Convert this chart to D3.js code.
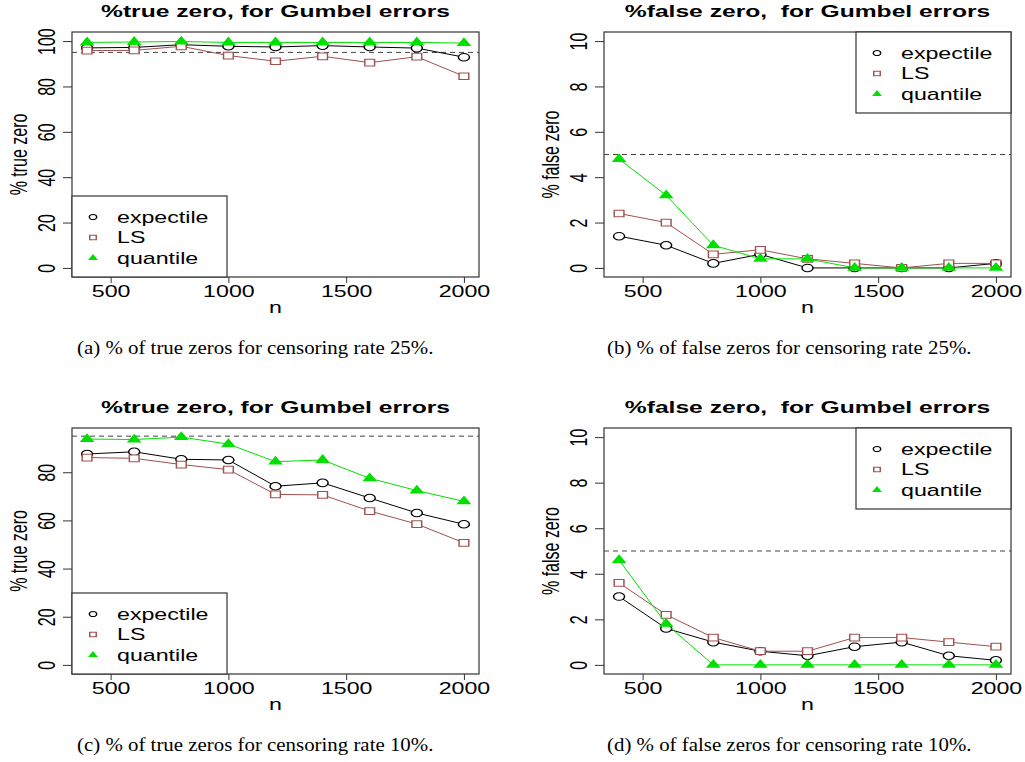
<!DOCTYPE html>
<html>
<head>
<meta charset="utf-8">
<script src="https://cdn.jsdelivr.net/npm/d3@7"></script>
<style>
  body { margin: 0; background: #fff; }
  svg { display: block; }
  text { font-family: "Liberation Sans", Arial, sans-serif; fill: #000; }
</style>
</head>
<body>
<svg id="chart" width="1025" height="762"></svg>
<script>
// sample sizes on the x axis
const nValues = [400, 600, 800, 1000, 1200, 1400, 1600, 1800, 2000];
const methods = ["expectile", "LS", "quantile"];
const xTicks = [500, 1000, 1500, 2000];

// (a) % true zero, censoring rate 25%
const trueExp25 = [97.0, 97.2, 98.4, 97.7, 97.4, 98.0, 97.4, 96.9, 92.9];
const trueLS25 = [95.8, 95.9, 97.7, 93.6, 91.1, 93.3, 90.5, 93.1, 84.5];
const trueQuant25 = [99.4, 99.6, 99.8, 99.4, 99.4, 99.4, 99.4, 99.4, 99.1];

// (b) % false zero, censoring rate 25%
const falseExp25 = [1.4, 1.0, 0.2, 0.6, 0.0, 0.0, 0.0, 0.0, 0.2];
const falseLS25 = [2.4, 2.0, 0.6, 0.8, 0.4, 0.2, 0.0, 0.2, 0.2];
const falseQuant25 = [4.8, 3.2, 1.0, 0.4, 0.4, 0.0, 0.0, 0.0, 0.0];

// (c) % true zero, censoring rate 10%
const trueExp10 = [87.6, 88.5, 85.4, 85.1, 74.2, 75.6, 69.3, 63.1, 58.4];
const trueLS10 = [86.1, 85.8, 83.2, 81.1, 70.8, 70.6, 63.9, 58.5, 50.7];
const trueQuant10 = [93.8, 93.6, 94.6, 91.7, 84.4, 85.1, 77.5, 72.4, 67.9];

// (d) % false zero, censoring rate 10%
const falseExp10 = [3.0, 1.6, 1.0, 0.6, 0.4, 0.8, 1.0, 0.4, 0.2];
const falseLS10 = [3.6, 2.2, 1.2, 0.6, 0.6, 1.2, 1.2, 1.0, 0.8];
const falseQuant10 = [4.6, 1.8, 0.0, 0.0, 0.0, 0.0, 0.0, 0.0, 0.0];

const trueTicks = [0, 20, 40, 60, 80, 100];
const falseTicks = [0, 2, 4, 6, 8, 10];

const captions = [
  "(a) % of true zeros for censoring rate 25%.",
  "(b) % of false zeros for censoring rate 25%.",
  "(c) % of true zeros for censoring rate 10%.",
  "(d) % of false zeros for censoring rate 10%."
];

const SX = 1.45; // the original figure is stretched sideways

const color = d3.scaleOrdinal().domain(methods).range(["#000000", "#a0504f", "#00e000"]);
const symbolType = d3.scaleOrdinal().domain(methods)
  .range([d3.symbolCircle, d3.symbolSquare, d3.symbolTriangle]);

const panels = [
  { left: 72, right: 479, top: 32, bottom: 277, title: "%true zero, for Gumbel errors",
    ylab: "% true zero", series: [trueExp25, trueLS25, trueQuant25], ylim: [0, 100],
    ticks: trueTicks, ref: 95, legend: "bottomleft", caption: captions[0] },
  { left: 604, right: 1011, top: 32, bottom: 277, title: "%false zero,  for Gumbel errors",
    ylab: "% false zero", series: [falseExp25, falseLS25, falseQuant25], ylim: [0, 10],
    ticks: falseTicks, ref: 5, legend: "topright", caption: captions[1] },
  { left: 72, right: 479, top: 428, bottom: 674, title: "%true zero, for Gumbel errors",
    ylab: "% true zero", series: [trueExp10, trueLS10, trueQuant10], ylim: null,
    ticks: trueTicks, ref: 95, legend: "bottomleft", caption: captions[2] },
  { left: 604, right: 1011, top: 428, bottom: 674, title: "%false zero,  for Gumbel errors",
    ylab: "% false zero", series: [falseExp10, falseLS10, falseQuant10], ylim: [0, 10],
    ticks: falseTicks, ref: 5, legend: "topright", caption: captions[3] }
];

const svg = d3.select("#chart");

// R style axis range: 4% extra on both ends
function pad(ext) {
  const d = (ext[1] - ext[0]) * 0.04;
  return [ext[0] - d, ext[1] + d];
}

function stretch(x, y, extra) {
  return `translate(${x},${y}) scale(${SX},1)` + (extra || "");
}

panels.forEach(function(p) {
  const g = svg.append("g");

  const x = d3.scaleLinear()
    .domain(pad(d3.extent(nValues)))
    .range([p.left, p.right]);

  const ylim = p.ylim || [0, d3.max(p.series, s => d3.max(s))];
  const y = d3.scaleLinear()
    .domain(pad(ylim))
    .range([p.bottom, p.top]);

  // x axis
  const xAxis = g.append("g")
    .attr("transform", `translate(0,${p.bottom})`)
    .call(d3.axisBottom(x).tickValues(xTicks).tickFormat(d3.format("d"))
      .tickSize(6).tickSizeOuter(0))
    .attr("font-family", "Liberation Sans, Arial, sans-serif")
    .attr("font-size", 16);
  xAxis.select(".domain").remove();
  xAxis.selectAll(".tick line").attr("stroke", "#333");
  xAxis.selectAll(".tick text")
    .attr("y", 0).attr("dy", null)
    .attr("transform", stretch(0, 20));

  // y axis, labels parallel to the axis
  const ticks = p.ticks.filter(t => t <= ylim[1] + 1e-9);
  const yAxis = g.append("g")
    .attr("transform", `translate(${p.left},0)`)
    .call(d3.axisLeft(y).tickValues(ticks).tickFormat(d3.format("d"))
      .tickSize(9).tickSizeOuter(0))
    .attr("font-family", "Liberation Sans, Arial, sans-serif")
    .attr("font-size", 16);
  yAxis.select(".domain").remove();
  yAxis.selectAll(".tick line").attr("stroke", "#333");
  yAxis.selectAll(".tick text")
    .attr("x", 0).attr("dy", null)
    .attr("text-anchor", "middle")
    .attr("transform", stretch(-17, 0, " rotate(-90)"));

  // box
  g.append("rect")
    .attr("x", p.left).attr("y", p.top)
    .attr("width", p.right - p.left).attr("height", p.bottom - p.top)
    .attr("fill", "none").attr("stroke", "#333").attr("stroke-width", 1.2);

  // dashed reference line
  g.append("line")
    .attr("x1", p.left).attr("x2", p.right)
    .attr("y1", y(p.ref)).attr("y2", y(p.ref))
    .attr("stroke", "#444").attr("stroke-dasharray", "5,4");

  const line = d3.line()
    .x((d, i) => x(nValues[i]))
    .y(d => y(d));

  p.series.forEach(function(values, k) {
    const m = methods[k];
    g.append("path")
      .attr("d", line(values))
      .attr("fill", "none")
      .attr("stroke", color(m))
      .attr("stroke-width", 1);

    g.selectAll(".pt" + k)
      .data(values)
      .join("path")
      .attr("class", "pt" + k)
      .attr("d", d3.symbol().type(symbolType(m)).size(45))
      .attr("transform", (d, i) => stretch(x(nValues[i]), y(d)))
      .attr("fill", m === "quantile" ? color(m) : "#fff")
      .attr("stroke", m === "quantile" ? "none" : color(m))
      .attr("stroke-width", 1);
  });

  // legend
  const lw = 155, lh = 81;
  const lx = p.legend === "bottomleft" ? p.left : p.right - lw;
  const ly = p.legend === "bottomleft" ? p.bottom - lh : p.top;
  g.append("rect")
    .attr("x", lx).attr("y", ly).attr("width", lw).attr("height", lh)
    .attr("fill", "#fff").attr("stroke", "#333").attr("stroke-width", 1.2);
  methods.forEach(function(m, k) {
    const ry = ly + 21 + k * 20.5;
    g.append("path")
      .attr("d", d3.symbol().type(symbolType(m)).size(20))
      .attr("transform", stretch(lx + 21, ry))
      .attr("fill", m === "quantile" ? color(m) : "#fff")
      .attr("stroke", m === "quantile" ? "none" : color(m));
    g.append("text")
      .attr("transform", stretch(lx + 45, ry + 5.5))
      .style("font-size", "16px")
      .text(m);
  });

  // titles
  const cx = (p.left + p.right) / 2;
  g.append("text")
    .attr("transform", stretch(cx, p.top - 15))
    .attr("text-anchor", "middle")
    .style("font-size", "17px")
    .style("font-weight", "bold")
    .style("white-space", "pre")
    .text(p.title);
  g.append("text")
    .attr("transform", stretch(cx, p.bottom + 36))
    .attr("text-anchor", "middle")
    .style("font-size", "16px")
    .text("n");
  g.append("text")
    .attr("transform", stretch(p.left - 45, (p.top + p.bottom) / 2, " rotate(-90)"))
    .attr("text-anchor", "middle")
    .style("font-size", "16px")
    .text(p.ylab);

  // caption under the panel
  g.append("text")
    .attr("transform", `translate(${p.left < 300 ? 77 : 607},${p.bottom + 77}) scale(1.16,1)`)
    .style("font-family", "'Liberation Serif', 'Times New Roman', serif")
    .style("font-size", "18px")
    .text(p.caption);
});
</script>
</body>
</html>
